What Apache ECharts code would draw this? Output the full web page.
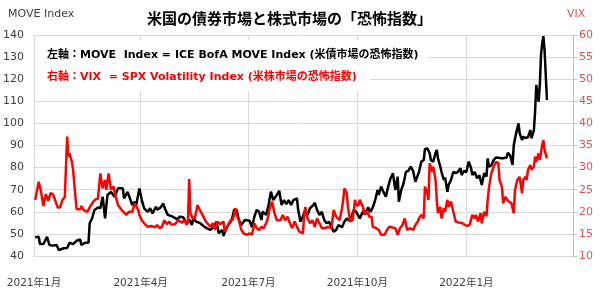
<!DOCTYPE html>
<html>
<head>
<meta charset="utf-8">
<script src="https://cdn.jsdelivr.net/npm/echarts@6/dist/echarts.min.js"></script>
<style>
  html, body { margin: 0; padding: 0; background: #fff; }
  #chart { width: 600px; height: 297px; }
</style>
</head>
<body>
<div id="chart"></div>
<script>
// MOVE index (left axis)
const moveDates = [
  '2021-01-02','2021-01-05','2021-01-06','2021-01-09','2021-01-12','2021-01-14','2021-01-17','2021-01-20','2021-01-22','2021-01-26','2021-01-29','2021-01-31',
  '2021-02-03','2021-02-06','2021-02-09','2021-02-10','2021-02-13','2021-02-16','2021-02-17','2021-02-19','2021-02-21','2021-02-24','2021-02-26','2021-02-28',
  '2021-03-02','2021-03-04','2021-03-07','2021-03-10','2021-03-13','2021-03-17','2021-03-18','2021-03-21','2021-03-25','2021-03-27','2021-03-28','2021-03-31',
  '2021-04-02','2021-04-04','2021-04-07','2021-04-09','2021-04-11','2021-04-14','2021-04-15','2021-04-18','2021-04-20','2021-04-22','2021-04-24','2021-04-28',
  '2021-05-02','2021-05-04','2021-05-07','2021-05-10','2021-05-13','2021-05-14','2021-05-16','2021-05-18','2021-05-21','2021-05-24','2021-05-27','2021-05-30',
  '2021-06-02','2021-06-04','2021-06-06','2021-06-09','2021-06-10','2021-06-13','2021-06-15','2021-06-17','2021-06-19','2021-06-21','2021-06-23','2021-06-25','2021-06-28',
  '2021-07-02','2021-07-04','2021-07-06','2021-07-08','2021-07-10','2021-07-12','2021-07-13','2021-07-16','2021-07-18','2021-07-20','2021-07-22','2021-07-25','2021-07-27','2021-07-29','2021-07-31',
  '2021-08-02','2021-08-04','2021-08-06','2021-08-08','2021-08-11','2021-08-12','2021-08-14','2021-08-16','2021-08-18','2021-08-20','2021-08-22','2021-08-25','2021-08-26','2021-08-28','2021-08-30',
  '2021-09-01','2021-09-03','2021-09-05','2021-09-07','2021-09-09','2021-09-11','2021-09-13','2021-09-15','2021-09-18','2021-09-20','2021-09-22','2021-09-24','2021-09-26','2021-09-28','2021-09-30',
  '2021-10-03','2021-10-05','2021-10-07','2021-10-08','2021-10-10','2021-10-12','2021-10-14','2021-10-16','2021-10-18','2021-10-19','2021-10-21','2021-10-23','2021-10-25','2021-10-27','2021-10-29','2021-10-31',
  '2021-11-02','2021-11-04','2021-11-05','2021-11-07','2021-11-09','2021-11-11','2021-11-13','2021-11-15','2021-11-17','2021-11-19','2021-11-21','2021-11-22','2021-11-24','2021-11-26','2021-11-27','2021-11-29',
  '2021-12-01','2021-12-02','2021-12-04','2021-12-06','2021-12-07','2021-12-08','2021-12-10','2021-12-11','2021-12-13','2021-12-14','2021-12-16','2021-12-17','2021-12-19','2021-12-21','2021-12-23','2021-12-25','2021-12-27','2021-12-28','2021-12-30',
  '2022-01-01','2022-01-03','2022-01-05','2022-01-06','2022-01-08','2022-01-10','2022-01-12','2022-01-14','2022-01-16','2022-01-18','2022-01-19','2022-01-20','2022-01-22','2022-01-24','2022-01-26','2022-01-28','2022-01-30',
  '2022-02-01','2022-02-04','2022-02-05','2022-02-07','2022-02-09','2022-02-10','2022-02-12','2022-02-14','2022-02-15','2022-02-17','2022-02-18','2022-02-20','2022-02-22','2022-02-24','2022-02-25','2022-02-27','2022-02-28',
  '2022-03-01','2022-03-03','2022-03-04','2022-03-05','2022-03-06','2022-03-07','2022-03-08','2022-03-10'
];
const moveValues = [
  48.5,48.7,45.4,45.4,48.7,45,44.7,45,42.7,43.5,43.6,46,
  45.4,46.9,47.5,45,46,46,54.8,57,60.8,62,61.6,66.8,
  57,67.6,69,66.8,70.6,70.6,66.1,69,63.1,64.6,62.3,70.6,
  65.3,61.6,60,61.6,59.3,62.3,60.9,62,63.8,60.8,58.6,57.8,
  56.6,57.8,57.5,54.8,56.3,54,57,55.5,55,53.6,52.5,51.8,
  53.3,55.5,50.3,51.8,49.1,53.3,54.8,56.3,61.1,60.8,56.3,54,56.3,
  56,53,57.8,60.8,60,56.3,60,58.6,63.1,69.1,65.3,67.6,69.5,63.1,65.3,
  63.5,65.3,63.1,65.3,66.1,60.8,55.5,58,60.8,58.6,61.6,63.1,64.1,60.8,58.6,
  60,56.3,54.8,55.5,53.3,51,51.8,54,53,55.5,57,56,57.8,60.8,60,
  57,59.3,60.8,59,62,60,62,65.3,69.9,67.6,71.4,69,66.8,71.4,75.2,77.4,
  69.9,75.9,64.6,69.9,72.9,78.1,78.5,80.4,78.5,73.6,76.6,78.1,82.7,83.4,88.3,88.7,
  86.5,83.4,82.7,86.7,88,84.2,80.4,78.1,74.4,75.5,69.1,72.1,74.4,78.1,77.5,78.1,79.7,76.6,78.5,
  78,82.7,79.7,76.6,78,75.2,76.5,72.1,77.4,76,84.2,80.4,81,83.4,84.6,84.5,84.2,
  84.2,84.6,86.7,85.5,81.2,90.2,95.5,100,95.5,92.5,94,93.3,93.8,97,93.3,97,105.3,
  117.4,109.8,117.4,131,136.2,139.5,133.2,110.6
];

// VIX (right axis)
const vixDates = [
  '2021-01-02','2021-01-05','2021-01-07','2021-01-09','2021-01-11','2021-01-13','2021-01-15','2021-01-17','2021-01-19','2021-01-21','2021-01-23','2021-01-25','2021-01-27','2021-01-29','2021-01-30','2021-01-31',
  '2021-02-02','2021-02-03','2021-02-05','2021-02-06','2021-02-09','2021-02-10','2021-02-12','2021-02-15','2021-02-17','2021-02-20','2021-02-22','2021-02-24','2021-02-26','2021-02-28',
  '2021-03-02','2021-03-03','2021-03-05','2021-03-07','2021-03-09','2021-03-11','2021-03-13','2021-03-16','2021-03-20','2021-03-22','2021-03-25','2021-03-27','2021-03-30','2021-03-31',
  '2021-04-02','2021-04-04','2021-04-07','2021-04-10','2021-04-13','2021-04-15','2021-04-17','2021-04-19','2021-04-21','2021-04-23','2021-04-25','2021-04-27','2021-04-30',
  '2021-05-03','2021-05-06','2021-05-08','2021-05-10','2021-05-11','2021-05-12','2021-05-13','2021-05-15','2021-05-17','2021-05-19','2021-05-21','2021-05-24','2021-05-26','2021-05-28','2021-05-30',
  '2021-06-01','2021-06-03','2021-06-05','2021-06-07','2021-06-10','2021-06-11','2021-06-13','2021-06-16','2021-06-18','2021-06-20','2021-06-21','2021-06-23','2021-06-25','2021-06-27','2021-06-30',
  '2021-07-02','2021-07-04','2021-07-06','2021-07-08','2021-07-10','2021-07-12','2021-07-14','2021-07-17','2021-07-19','2021-07-21','2021-07-23','2021-07-25','2021-07-26','2021-07-28','2021-07-30',
  '2021-08-01','2021-08-03','2021-08-05','2021-08-07','2021-08-09','2021-08-11','2021-08-13','2021-08-16','2021-08-17','2021-08-18','2021-08-20','2021-08-22','2021-08-24','2021-08-26','2021-08-28','2021-08-30',
  '2021-09-01','2021-09-04','2021-09-06','2021-09-09','2021-09-11','2021-09-12','2021-09-13','2021-09-16','2021-09-18','2021-09-19','2021-09-20','2021-09-22','2021-09-23','2021-09-25','2021-09-27','2021-09-29','2021-09-30',
  '2021-10-02','2021-10-03','2021-10-05','2021-10-06','2021-10-07','2021-10-09','2021-10-11','2021-10-13','2021-10-14','2021-10-17','2021-10-19','2021-10-21','2021-10-24','2021-10-26','2021-10-28','2021-10-29',
  '2021-11-02','2021-11-04','2021-11-06','2021-11-08','2021-11-10','2021-11-12','2021-11-14','2021-11-17','2021-11-19','2021-11-21','2021-11-22','2021-11-24','2021-11-26','2021-11-27','2021-11-29','2021-11-30',
  '2021-12-01','2021-12-03','2021-12-04','2021-12-06','2021-12-07','2021-12-08','2021-12-10','2021-12-11','2021-12-13','2021-12-14','2021-12-16','2021-12-17','2021-12-19','2021-12-21','2021-12-23','2021-12-25','2021-12-28','2021-12-31',
  '2022-01-02','2022-01-04','2022-01-06','2022-01-08','2022-01-09','2022-01-11','2022-01-13','2022-01-14','2022-01-16','2022-01-18','2022-01-19','2022-01-20','2022-01-22','2022-01-24','2022-01-26','2022-01-28','2022-01-29','2022-01-31',
  '2022-02-01','2022-02-03','2022-02-05','2022-02-06','2022-02-08','2022-02-10','2022-02-11','2022-02-13','2022-02-14','2022-02-15','2022-02-17','2022-02-18','2022-02-20','2022-02-21','2022-02-22','2022-02-24','2022-02-25','2022-02-27','2022-02-28',
  '2022-03-01','2022-03-03','2022-03-04','2022-03-06','2022-03-07','2022-03-08','2022-03-10'
];
const vixValues = [
  22.7,26.8,24.5,21.3,24,22.5,24.2,24,22.5,21,21,22.7,23.3,37,32.5,33.2,
  31.3,29.5,23.4,20.6,20.6,21.3,20.4,20,21,22.3,22.8,23,28.7,25.3,
  27.2,25,28.7,25,25.7,23.4,21.5,20.4,19.3,20,20,21.9,20.4,19.3,
  18.1,17.4,16.6,16.8,16.5,17,16.3,16.6,18.1,17.2,17.8,17.1,17.2,
  18.1,17.5,18.1,17,18.1,27.4,19.7,18.5,18.8,21.5,20.4,18.9,17.8,17.2,16.6,
  17.4,15.9,17.8,17.2,17.8,15.5,16.6,18.1,18.3,20.8,19.3,18.1,15.9,15.1,14.8,
  15.1,14.8,17.4,16.3,15.9,16.6,16.3,18.1,20.8,22.3,19.7,18.1,17.8,18.1,19.3,
  18.1,18.9,17.4,16.3,17.8,16.6,15.5,15.1,18.9,21.1,18.5,17.4,18.1,16.6,18.5,17.4,
  16.3,16.3,16.6,16.3,20.4,19.7,18.9,18.1,20.8,22.7,25.3,24.2,21.1,17.8,18.1,22.7,21.5,
  21.5,22.7,21.5,20.8,19.3,20.4,18.9,18.9,16.6,16.3,15.9,14.8,14.8,15.9,16.6,16.3,
  16.3,14.8,16.3,17,18.5,15.9,16.3,15.9,17,17.8,18.5,19.3,18.5,25.7,24.2,22.7,
  31,29.1,30.2,27.2,22.7,19.7,21.1,18.5,20.8,20,22.7,21.1,22.3,20,17.8,17.6,17.5,17,
  16.8,17.2,19.3,18.5,19.3,17.8,19.7,17.4,20,19,22.7,25.3,28.7,30.2,31.3,31,27.2,25.7,
  21.9,23.4,22.5,22.5,22,19.7,24.9,27.2,27.5,27.9,24.2,27.2,27.9,27.2,29.5,30.6,29.5,30.2,32.5,
  31.3,33.2,31.7,35.1,36.2,34,32.1
];

// quarter marks on the date axis
const quarterTicks = ['2021-01-01', '2021-04-01', '2021-07-01', '2021-10-01', '2022-01-01', '2022-04-01'];
const quarterLabels = ['2021-01-01', '2021-04-01', '2021-07-01', '2021-10-01', '2022-01-01'];

const toTime = (s) => {
  const p = s.split('-');
  return new Date(+p[0], +p[1] - 1, +p[2]).getTime();
};

const chart = echarts.init(document.getElementById('chart'));

const font = "'DejaVu Sans', 'Noto Sans CJK JP', sans-serif";
const gridColor = '#d9d9d9';

const option = {
  animation: false,
  title: {
    text: '米国の債券市場と株式市場の「恐怖指数」',
    left: 142,
    top: 6,
    textStyle: { fontFamily: "'Noto Sans CJK JP', sans-serif", fontSize: 15, fontWeight: 'bold', color: '#000' }
  },
  grid: { left: 34, right: 27, top: 35, bottom: 41 },
  xAxis: {
    type: 'value',
    min: toTime('2021-01-01'),
    max: toTime('2022-04-01'),
    axisLine: { show: true, lineStyle: { color: gridColor } },
    axisTick: { show: false, customValues: quarterTicks.map(toTime) },
    axisLabel: {
      customValues: quarterLabels.map(toTime),
      margin: 22,
      fontFamily: font,
      fontSize: 10.5,
      color: '#404040',
      formatter: (v) => {
        const d = new Date(v);
        return d.getFullYear() + '年' + (d.getMonth() + 1) + '月';
      }
    },
    splitLine: { show: true, lineStyle: { color: gridColor } }
  },
  yAxis: [
    {
      type: 'value',
      min: 40,
      max: 140,
      interval: 10,
      axisLine: { show: false },
      axisTick: { show: false },
      axisLabel: { fontFamily: font, fontSize: 11, color: '#404040', margin: 10 },
      splitLine: { show: true, lineStyle: { color: gridColor } }
    },
    {
      type: 'value',
      min: 10,
      max: 60,
      interval: 5,
      position: 'right',
      axisLine: { show: true, lineStyle: { color: '#bfbfbf' } },
      axisTick: { show: true, length: 4, lineStyle: { color: '#bfbfbf' } },
      axisLabel: { fontFamily: font, fontSize: 11, color: '#e05050', margin: 6 },
      splitLine: { show: false }
    }
  ],
  graphic: [
    { type: 'text', left: 8, top: 9, style: { text: 'MOVE Index', font: '11px ' + font, fill: '#404040' } },
    { type: 'text', left: 567, top: 9, style: { text: 'VIX', font: '11px ' + font, fill: '#e05050' } },
    { type: 'rect', shape: { x: 35, y: 40, width: 393, height: 30 }, style: { fill: '#fff' }, z: 1 },
    { type: 'rect', shape: { x: 35, y: 70, width: 335, height: 21 }, style: { fill: '#fff' }, z: 1 },
    {
      type: 'text', left: 47, top: 50, z: 2,
      style: { text: '左軸：MOVE  Index = ICE BofA MOVE Index (米債市場の恐怖指数)', font: 'bold 11px ' + font, fill: '#000' }
    },
    {
      type: 'text', left: 47, top: 72, z: 2,
      style: { text: '右軸：VIX  = SPX Volatility Index (米株市場の恐怖指数)', font: 'bold 11px ' + font, fill: '#ff0000' }
    }
  ],
  series: [
    {
      name: 'MOVE Index',
      type: 'line',
      yAxisIndex: 0,
      showSymbol: false,
      lineStyle: { color: '#000', width: 2.5 },
      data: moveDates.map((d, i) => [toTime(d), moveValues[i]])
    },
    {
      name: 'VIX',
      type: 'line',
      yAxisIndex: 1,
      showSymbol: false,
      lineStyle: { color: '#ff0000', width: 2.5 },
      data: vixDates.map((d, i) => [toTime(d), vixValues[i]])
    }
  ]
};

chart.setOption(option);
</script>
</body>
</html>
